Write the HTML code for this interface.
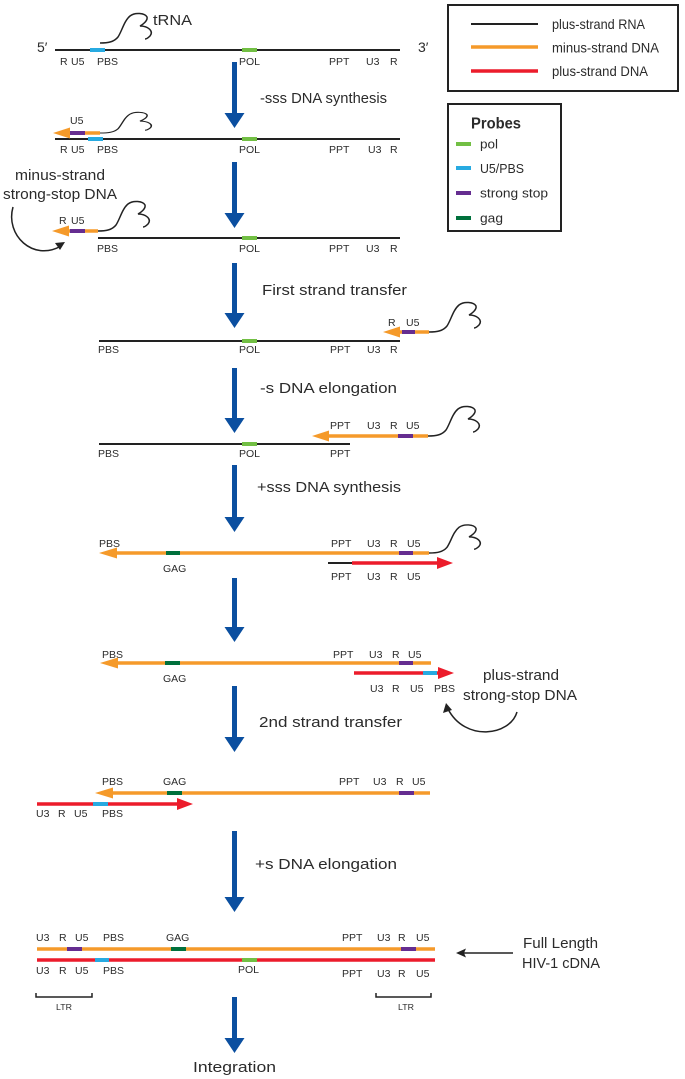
<!DOCTYPE html>
<html><head><meta charset="utf-8"><style>
html,body{margin:0;padding:0;background:#fff;}
svg{display:block;}
text{font-family:"Liberation Sans",sans-serif;fill:#2b2b2b;}
.s{font-size:10.5px;}
.m{font-size:15px;}
</style></head><body>
<svg width="685" height="1079" viewBox="0 0 685 1079" xmlns="http://www.w3.org/2000/svg">
<defs>
<path id="trna" d="M0,0 C8,0 14,-1 18,-6 C22,-12 24,-22 30,-27 C35,-31 45,-30 47,-26 C48,-22 42,-18 40,-17 C48,-17 54,-12 50,-7 C48,-5 46,-4 45,-4" fill="none" stroke="#222" stroke-width="1.5"/>
</defs>
<rect width="685" height="1079" fill="#fff"/>

<!-- Legend -->
<rect x="448" y="5" width="230" height="86" fill="none" stroke="#222" stroke-width="2"/>
<line x1="471" y1="24" x2="538" y2="24" stroke="#222" stroke-width="2"/>
<line x1="471" y1="47" x2="538" y2="47" stroke="#f59a2a" stroke-width="3.5"/>
<line x1="471" y1="71" x2="538" y2="71" stroke="#ec1c2b" stroke-width="3.5"/>
<text x="552" y="29" font-size="14" textLength="93" lengthAdjust="spacingAndGlyphs">plus-strand RNA</text>
<text x="552" y="52.5" font-size="14" textLength="107" lengthAdjust="spacingAndGlyphs">minus-strand DNA</text>
<text x="552" y="76" font-size="14" textLength="96" lengthAdjust="spacingAndGlyphs">plus-strand DNA</text>

<rect x="448" y="104" width="113" height="127" fill="none" stroke="#222" stroke-width="2"/>
<text x="471" y="128.5" font-size="16" font-weight="bold" textLength="50" lengthAdjust="spacingAndGlyphs">Probes</text>
<rect x="456" y="142" width="15" height="4" fill="#72bf44"/>
<rect x="456" y="166" width="15" height="4" fill="#27aae1"/>
<rect x="456" y="191" width="15" height="4" fill="#652d90"/>
<rect x="456" y="216" width="15" height="4" fill="#00703c"/>
<text x="480" y="148.5" font-size="13" textLength="18" lengthAdjust="spacingAndGlyphs">pol</text>
<text x="480" y="173" font-size="13" textLength="44" lengthAdjust="spacingAndGlyphs">U5/PBS</text>
<text x="480" y="197.5" font-size="13" textLength="68" lengthAdjust="spacingAndGlyphs">strong stop</text>
<text x="480" y="222.5" font-size="13" textLength="23" lengthAdjust="spacingAndGlyphs">gag</text>

<!-- Blue arrows -->
<g fill="#0b4fa0">
<rect x="232" y="62" width="5" height="52"/><polygon points="224.5,113 244.5,113 234.5,128"/>
<rect x="232" y="162" width="5" height="52"/><polygon points="224.5,213 244.5,213 234.5,228"/>
<rect x="232" y="263" width="5" height="51"/><polygon points="224.5,313 244.5,313 234.5,328"/>
<rect x="232" y="368" width="5" height="51"/><polygon points="224.5,418 244.5,418 234.5,433"/>
<rect x="232" y="465" width="5" height="53"/><polygon points="224.5,517 244.5,517 234.5,532"/>
<rect x="232" y="578" width="5" height="50"/><polygon points="224.5,627 244.5,627 234.5,642"/>
<rect x="232" y="686" width="5" height="52"/><polygon points="224.5,737 244.5,737 234.5,752"/>
<rect x="232" y="831" width="5" height="67"/><polygon points="224.5,897 244.5,897 234.5,912"/>
<rect x="232" y="997" width="5" height="42"/><polygon points="224.5,1038 244.5,1038 234.5,1053"/>
</g>

<!-- Step labels -->
<text class="m" x="260" y="103" textLength="127" lengthAdjust="spacingAndGlyphs">-sss DNA synthesis</text>
<text class="m" x="262" y="295" textLength="145" lengthAdjust="spacingAndGlyphs">First strand transfer</text>
<text class="m" x="260" y="393" textLength="137" lengthAdjust="spacingAndGlyphs">-s DNA elongation</text>
<text class="m" x="257" y="492" textLength="144" lengthAdjust="spacingAndGlyphs">+sss DNA synthesis</text>
<text class="m" x="259" y="727" textLength="143" lengthAdjust="spacingAndGlyphs">2nd strand transfer</text>
<text class="m" x="255" y="869" textLength="142" lengthAdjust="spacingAndGlyphs">+s DNA elongation</text>
<text class="m" x="193" y="1072" textLength="83" lengthAdjust="spacingAndGlyphs">Integration</text>

<!-- Row 1 -->
<text x="37" y="52" font-size="14">5′</text>
<text x="418" y="52" font-size="14">3′</text>
<line x1="55" y1="50" x2="400" y2="50" stroke="#222" stroke-width="2"/>
<rect x="90" y="48" width="15" height="4" fill="#27aae1"/>
<rect x="242" y="48" width="15" height="4" fill="#72bf44"/>
<use href="#trna" transform="translate(100,43)"/>
<text x="153" y="25" font-size="15" textLength="39" lengthAdjust="spacingAndGlyphs">tRNA</text>
<text class="s" x="60" y="65">R</text><text class="s" x="71" y="65">U5</text><text class="s" x="97" y="65">PBS</text><text class="s" x="239" y="65">POL</text><text class="s" x="329" y="65">PPT</text><text class="s" x="366" y="65">U3</text><text class="s" x="390" y="65">R</text>

<!-- Row 2 -->
<line x1="55" y1="139" x2="400" y2="139" stroke="#222" stroke-width="2"/>
<rect x="88" y="137" width="15" height="4" fill="#27aae1"/>
<rect x="242" y="137" width="15" height="4" fill="#72bf44"/>
<line x1="68" y1="133" x2="100" y2="133" stroke="#f59a2a" stroke-width="3.5"/>
<rect x="70" y="131" width="15" height="4" fill="#652d90"/>
<polygon points="53,133 70,127.5 70,138.5" fill="#f59a2a"/>
<use href="#trna" transform="translate(100,133) scale(1,0.7)"/>
<text class="s" x="70" y="124">U5</text>
<text class="s" x="60" y="153">R</text><text class="s" x="71" y="153">U5</text><text class="s" x="97" y="153">PBS</text><text class="s" x="239" y="153">POL</text><text class="s" x="329" y="153">PPT</text><text class="s" x="368" y="153">U3</text><text class="s" x="390" y="153">R</text>

<!-- Row 3 -->
<text x="15" y="180" font-size="15" textLength="90" lengthAdjust="spacingAndGlyphs">minus-strand</text>
<text x="3" y="199" font-size="15" textLength="114" lengthAdjust="spacingAndGlyphs">strong-stop DNA</text>
<path d="M13,207 C5,235 33,262 61,246" fill="none" stroke="#222" stroke-width="1.5"/>
<polygon points="65,242 55,243 60,250" fill="#222"/>
<line x1="98" y1="238" x2="400" y2="238" stroke="#222" stroke-width="2"/>
<rect x="242" y="236" width="15" height="4" fill="#72bf44"/>
<line x1="68" y1="231" x2="98" y2="231" stroke="#f59a2a" stroke-width="3.5"/>
<rect x="70" y="229" width="15" height="4" fill="#652d90"/>
<polygon points="52,231 69,225.5 69,236.5" fill="#f59a2a"/>
<use href="#trna" transform="translate(98,231)"/>
<text class="s" x="59" y="224">R</text><text class="s" x="71" y="224">U5</text>
<text class="s" x="97" y="252">PBS</text><text class="s" x="239" y="252">POL</text><text class="s" x="329" y="252">PPT</text><text class="s" x="366" y="252">U3</text><text class="s" x="390" y="252">R</text>

<!-- Row 4 -->
<line x1="99" y1="341" x2="400" y2="341" stroke="#222" stroke-width="2"/>
<rect x="242" y="339" width="15" height="4" fill="#72bf44"/>
<line x1="398" y1="332" x2="429" y2="332" stroke="#f59a2a" stroke-width="3.5"/>
<rect x="402" y="330" width="13" height="4" fill="#652d90"/>
<polygon points="383,332 400,326.5 400,337.5" fill="#f59a2a"/>
<use href="#trna" transform="translate(429,332)"/>
<text class="s" x="388" y="326">R</text><text class="s" x="406" y="326">U5</text>
<text class="s" x="98" y="353">PBS</text><text class="s" x="239" y="353">POL</text><text class="s" x="330" y="353">PPT</text><text class="s" x="367" y="353">U3</text><text class="s" x="390" y="353">R</text>

<!-- Row 5 -->
<line x1="99" y1="444" x2="350" y2="444" stroke="#222" stroke-width="2"/>
<rect x="242" y="442" width="15" height="4" fill="#72bf44"/>
<line x1="326" y1="436" x2="428" y2="436" stroke="#f59a2a" stroke-width="3.5"/>
<rect x="398" y="434" width="15" height="4" fill="#652d90"/>
<polygon points="312,436 329,430.5 329,441.5" fill="#f59a2a"/>
<use href="#trna" transform="translate(428,436)"/>
<text class="s" x="330" y="429">PPT</text><text class="s" x="367" y="429">U3</text><text class="s" x="390" y="429">R</text><text class="s" x="406" y="429">U5</text>
<text class="s" x="98" y="457">PBS</text><text class="s" x="239" y="457">POL</text><text class="s" x="330" y="457">PPT</text>

<!-- Row 6 -->
<line x1="114" y1="553" x2="429" y2="553" stroke="#f59a2a" stroke-width="3.5"/>
<polygon points="99,553 117,547.5 117,558.5" fill="#f59a2a"/>
<rect x="166" y="551" width="14" height="4" fill="#00703c"/>
<rect x="399" y="551" width="14" height="4" fill="#652d90"/>
<use href="#trna" transform="translate(429,553) scale(1,0.95)"/>
<line x1="328" y1="563" x2="352" y2="563" stroke="#222" stroke-width="2"/>
<line x1="352" y1="563" x2="440" y2="563" stroke="#ec1c2b" stroke-width="3.5"/>
<polygon points="453,563 437,557 437,569" fill="#ec1c2b"/>
<text class="s" x="99" y="547">PBS</text><text class="s" x="331" y="547">PPT</text><text class="s" x="367" y="547">U3</text><text class="s" x="390" y="547">R</text><text class="s" x="407" y="547">U5</text>
<text class="s" x="163" y="572">GAG</text>
<text class="s" x="331" y="580">PPT</text><text class="s" x="367" y="580">U3</text><text class="s" x="390" y="580">R</text><text class="s" x="407" y="580">U5</text>

<!-- Row 7 -->
<line x1="115" y1="663" x2="431" y2="663" stroke="#f59a2a" stroke-width="3.5"/>
<polygon points="100,663 118,657.5 118,668.5" fill="#f59a2a"/>
<rect x="165" y="661" width="15" height="4" fill="#00703c"/>
<rect x="399" y="661" width="14" height="4" fill="#652d90"/>
<line x1="354" y1="673" x2="440" y2="673" stroke="#ec1c2b" stroke-width="3.5"/>
<rect x="423" y="671" width="14" height="4" fill="#27aae1"/>
<polygon points="454,673 438,667 438,679" fill="#ec1c2b"/>
<text class="s" x="102" y="658">PBS</text><text class="s" x="333" y="658">PPT</text><text class="s" x="369" y="658">U3</text><text class="s" x="392" y="658">R</text><text class="s" x="408" y="658">U5</text>
<text class="s" x="163" y="682">GAG</text>
<text class="s" x="370" y="692">U3</text><text class="s" x="392" y="692">R</text><text class="s" x="410" y="692">U5</text><text class="s" x="434" y="692">PBS</text>
<text x="483" y="680" font-size="15" textLength="76" lengthAdjust="spacingAndGlyphs">plus-strand</text>
<text x="463" y="700" font-size="15" textLength="114" lengthAdjust="spacingAndGlyphs">strong-stop DNA</text>
<path d="M517,712 C510,736 465,742 448,709" fill="none" stroke="#222" stroke-width="1.5"/>
<polygon points="446,703 443,713 452,710" fill="#222"/>

<!-- Row 8 -->
<line x1="110" y1="793" x2="430" y2="793" stroke="#f59a2a" stroke-width="3.5"/>
<polygon points="95,793 113,787.5 113,798.5" fill="#f59a2a"/>
<rect x="167" y="791" width="15" height="4" fill="#00703c"/>
<rect x="399" y="791" width="15" height="4" fill="#652d90"/>
<line x1="37" y1="804" x2="180" y2="804" stroke="#ec1c2b" stroke-width="3.5"/>
<rect x="93" y="802" width="15" height="4" fill="#27aae1"/>
<polygon points="193,804 177,798 177,810" fill="#ec1c2b"/>
<text class="s" x="102" y="785">PBS</text><text class="s" x="163" y="785">GAG</text><text class="s" x="339" y="785">PPT</text><text class="s" x="373" y="785">U3</text><text class="s" x="396" y="785">R</text><text class="s" x="412" y="785">U5</text>
<text class="s" x="36" y="817">U3</text><text class="s" x="58" y="817">R</text><text class="s" x="74" y="817">U5</text><text class="s" x="102" y="817">PBS</text>

<!-- Row 9 -->
<line x1="37" y1="949" x2="435" y2="949" stroke="#f59a2a" stroke-width="3.5"/>
<rect x="67" y="947" width="15" height="4" fill="#652d90"/>
<rect x="171" y="947" width="15" height="4" fill="#00703c"/>
<rect x="401" y="947" width="15" height="4" fill="#652d90"/>
<line x1="37" y1="960" x2="435" y2="960" stroke="#ec1c2b" stroke-width="3.5"/>
<rect x="95" y="958" width="14" height="4" fill="#27aae1"/>
<rect x="242" y="958" width="15" height="4" fill="#72bf44"/>
<text class="s" x="36" y="941">U3</text><text class="s" x="59" y="941">R</text><text class="s" x="75" y="941">U5</text><text class="s" x="103" y="941">PBS</text><text class="s" x="166" y="941">GAG</text><text class="s" x="342" y="941">PPT</text><text class="s" x="377" y="941">U3</text><text class="s" x="398" y="941">R</text><text class="s" x="416" y="941">U5</text>
<text class="s" x="36" y="974">U3</text><text class="s" x="59" y="974">R</text><text class="s" x="75" y="974">U5</text><text class="s" x="103" y="974">PBS</text><text class="s" x="238" y="973">POL</text><text class="s" x="342" y="977">PPT</text><text class="s" x="377" y="977">U3</text><text class="s" x="398" y="977">R</text><text class="s" x="416" y="977">U5</text>
<path d="M36,993 V997 H92 V993" fill="none" stroke="#222" stroke-width="1.5"/>
<path d="M376,993 V997 H431 V993" fill="none" stroke="#222" stroke-width="1.5"/>
<text x="56" y="1010" font-size="8" textLength="16" lengthAdjust="spacingAndGlyphs">LTR</text>
<text x="398" y="1010" font-size="8" textLength="16" lengthAdjust="spacingAndGlyphs">LTR</text>

<!-- Full length label -->
<line x1="462" y1="953" x2="513" y2="953" stroke="#222" stroke-width="1.5"/>
<polygon points="456,953 466,948.5 464,953 466,957.5" fill="#222"/>
<text x="523" y="948" font-size="15" textLength="75" lengthAdjust="spacingAndGlyphs">Full Length</text>
<text x="522" y="968" font-size="15" textLength="78" lengthAdjust="spacingAndGlyphs">HIV-1 cDNA</text>
</svg>
</body></html>
